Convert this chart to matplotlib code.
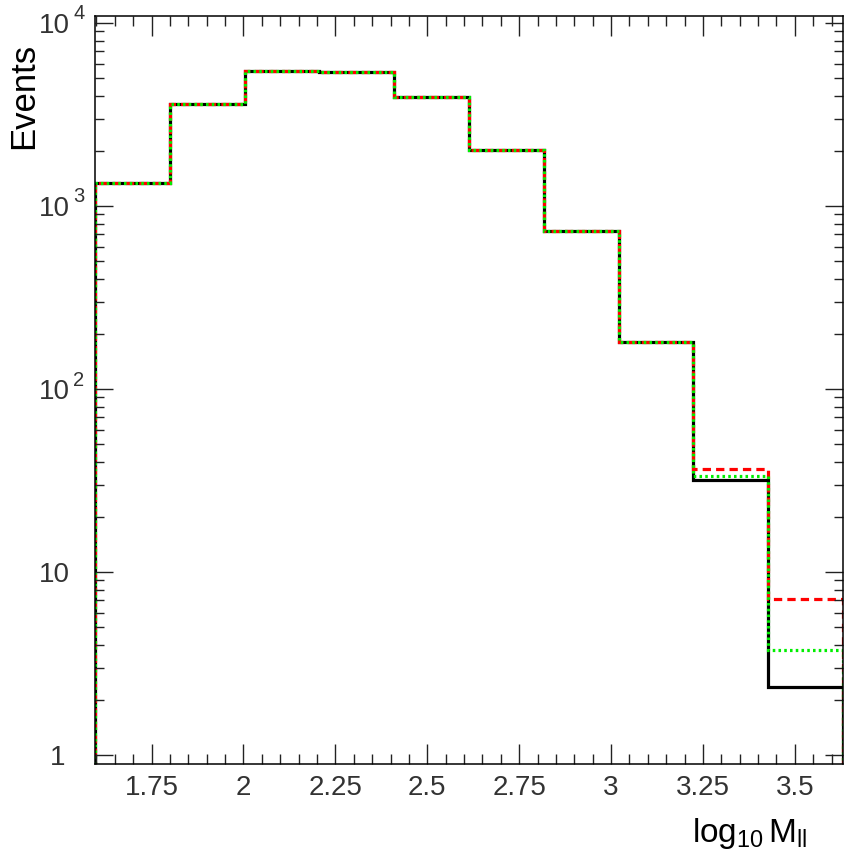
import numpy as np
import matplotlib
matplotlib.use('Agg')
import matplotlib.pyplot as plt
import matplotlib.transforms as mtransforms
from matplotlib.ticker import FixedLocator, MultipleLocator, FuncFormatter, NullFormatter

plt.rcParams['font.family'] = ['Liberation Sans', 'DejaVu Sans']
plt.rcParams['mathtext.fontset'] = 'custom'
plt.rcParams['mathtext.rm'] = 'Liberation Sans'
plt.rcParams['mathtext.it'] = 'Liberation Sans:italic'

# bin edges in log10(M_ll)
edges = [1.596, 1.7995, 2.003, 2.2065, 2.41, 2.6135, 2.817, 3.0205, 3.224, 3.4275, 3.631]
# black solid (nominal)
nominal = [1340, 3600, 5460, 5380, 3940, 2020, 730, 181, 31.9, 2.35]
# red dashed
red_vals = [1340, 3600, 5460, 5380, 3940, 2020, 730, 181, 36.4, 7.09]
# green dotted
green_vals = [1340, 3600, 5460, 5380, 3940, 2020, 730, 181, 33.6, 3.73]

ydecades = [1, 10, 100, 1000, 10000]
ybase = ['1', '10', '10', '10', '10']
yexp = ['', '', '2', '3', '4']

fig = plt.figure(figsize=(8.52, 8.64), dpi=100)
ax = fig.add_axes([95/852, 100/864, (843-95)/852, (764-16)/864])

lw = 2.3
ax.stairs(nominal, edges, baseline=0.5, color='black', lw=lw, linestyle='-')
ax.stairs(red_vals, edges, baseline=0.5, color='#ff0000', lw=lw, linestyle=(0, (2.6, 1.6)))
ax.stairs(green_vals, edges, baseline=0.5, color='#00ee00', lw=lw, linestyle=(0, (0.8, 1.0)))

ax.set_yscale('log')
ax.set_xlim(1.596, 3.631)
ax.set_ylim(0.893, 10920)

ax.xaxis.set_major_locator(MultipleLocator(0.25))
ax.xaxis.set_minor_locator(MultipleLocator(0.05))
ax.xaxis.set_major_formatter(FuncFormatter(lambda v, p: f'{v:g}'))

ax.yaxis.set_major_locator(FixedLocator(ydecades))
minors = [m * 10**d for d in range(0, 4) for m in range(2, 10)]
ax.yaxis.set_minor_locator(FixedLocator(minors))
ax.yaxis.set_major_formatter(NullFormatter())
ax.yaxis.set_minor_formatter(NullFormatter())

# ROOT style y labels: "10" with a detached exponent
trans = mtransforms.blended_transform_factory(fig.transFigure, ax.transData)
for v, b, e in zip(ydecades, ybase, yexp):
    xr = 65 if b == '1' else 70
    ax.text(xr/852, v, b, transform=trans, ha='right', va='center_baseline',
            fontsize=20, color='#333333')
    if e:
        ax.text(73/852, v * 10**(11/183), e, transform=trans, ha='left',
                va='center_baseline', fontsize=14.5, color='#333333')

for sp in ax.spines.values():
    sp.set_linewidth(1.1)

ax.tick_params(which='both', direction='in', top=True, right=True, width=1.0,
               color='#222222', labelcolor='#333333', labelsize=20)
ax.tick_params(axis='x', which='major', length=14.4, pad=8)
ax.tick_params(axis='x', which='minor', length=7.2)
ax.tick_params(axis='y', which='major', length=13)
ax.tick_params(axis='y', which='minor', length=6.5)

fig.text(40/852, (864-43)/864, 'Events', rotation=90, ha='right', va='top',
         fontsize=25, color='black')
fig.text(807/852, (864-842)/864, r'$\mathregular{log_{10}\,M_{ll}}$', ha='right',
         va='baseline', fontsize=24, color='black')

fig.savefig('out.png', dpi=100)
